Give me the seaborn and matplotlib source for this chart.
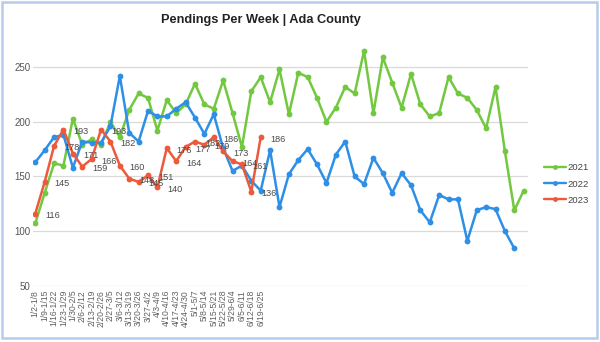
import matplotlib
matplotlib.use("Agg")
import matplotlib.pyplot as plt
import seaborn as sns
import pandas as pd
from matplotlib.patches import Rectangle
from matplotlib.lines import Line2D

# ---------------- data ----------------
weeks = ["1/2-1/8", "1/9-1/15", "1/16-1/22", "1/23-1/29", "1/30-2/5",
         "2/6-2/12", "2/13-2/19", "2/20-2/26", "2/27-3/5", "3/6-3/12",
         "3/13-3/19", "3/20-3/26", "3/27-4/2", "4/3-4/9", "4/10-4/16",
         "4/17-4/23", "4/24-4/30", "5/1-5/7", "5/8-5/14", "5/15-5/21",
         "5/22-5/28", "5/29-6/4", "6/5-6/11", "6/12-6/18", "6/19-6/25"]
n_categories = 53

values_2021 = [107, 135, 162, 160, 203, 179, 184, 179, 200, 186,
               211, 226, 222, 192, 220, 208, 216, 235, 216, 212,
               238, 208, 177, 228, 241, 218, 248, 207, 245, 241,
               222, 200, 213, 232, 226, 265, 208, 259, 236, 213,
               244, 216, 205, 208, 241, 226, 222, 211, 194, 232,
               173, 119, 137]
values_2022 = [163, 174, 186, 188, 158, 182, 181, 181, 196, 242,
               190, 182, 210, 205, 205, 212, 218, 204, 189, 207,
               176, 155, 160, 146, 137, 174, 122, 152, 165, 175,
               161, 144, 170, 182, 150, 143, 167, 153, 135, 153,
               142, 119, 108, 133, 129, 129, 91, 119, 122, 120,
               100, 84]
values_2023 = [116, 145, 178, 193, 171, 159, 166, 193, 182, 160,
               148, 145, 151, 140, 176, 164, 177, 182, 179, 186,
               173, 164, 161, 136, 186]
series_names = ["2021", "2022", "2023"]
y_ticks = [50, 100, 150, 200, 250]

tick_labels = weeks + [""] * (n_categories - len(weeks))

# ---------------- style ----------------
sns.set_theme(style="white")
plt.rcParams["font.family"] = ["Liberation Sans", "DejaVu Sans"]

rows = []
for name, vals in zip(series_names, [values_2021, values_2022, values_2023]):
    for i, v in enumerate(vals):
        rows.append({"week": i, "value": v, "year": name})
df = pd.DataFrame(rows)

palette = {"2021": "#72c83f", "2022": "#2e8fe6", "2023": "#ec5a3b"}

W, H = 600, 342
fig = plt.figure(figsize=(6, 3.42), dpi=100)
fig.patch.set_facecolor("white")
ax_left, ax_right, ax_top, ax_bottom = 33, 528.3, 40, 285.6
ax = fig.add_axes([ax_left / W, 1 - ax_bottom / H,
                   (ax_right - ax_left) / W, (ax_bottom - ax_top) / H])

sns.lineplot(data=df, x="week", y="value", hue="year", palette=palette,
             marker="o", markersize=4.2, markeredgewidth=0, linewidth=1.8,
             ax=ax, legend=False, zorder=3)

# data labels for 2023
for i, v in enumerate(values_2023):
    ax.annotate(str(v), (i, v), xytext=(7.2, -1.5), textcoords="offset points",
                ha="left", va="center", fontsize=6.6, color="#4a4a4a", zorder=5)

ax.set_xlim(-0.245, 52.49)
ax.set_ylim(50, 275)
ax.set_yticks(y_ticks)
ax.set_yticklabels([str(t) for t in y_ticks], fontsize=7, color="#555555")
ax.set_xticks(range(n_categories))
ax.set_xticklabels(tick_labels, rotation=90, fontsize=6.2, color="#606060",
                   family=["Liberation Sans Narrow", "Liberation Sans", "DejaVu Sans"],
                   va="top", ha="center")
ax.tick_params(axis="both", length=0)
ax.tick_params(axis="y", pad=2)
ax.tick_params(axis="x", pad=3)
ax.set_xlabel("")
ax.set_ylabel("")
ax.yaxis.grid(True, color="#dadada", linewidth=0.9)
ax.xaxis.grid(False)
for s in ax.spines.values():
    s.set_visible(False)

# legend
handles = [Line2D([0], [0], color=palette[n], marker="o", markersize=3.5,
                  markeredgewidth=0, linewidth=1.7) for n in series_names]
ax.legend(handles, series_names, loc="center left",
          bbox_to_anchor=(544 / W, 1 - 184 / H), bbox_transform=fig.transFigure,
          frameon=False, fontsize=6.8, handlelength=2.3, handletextpad=0.2,
          labelspacing=0.75, borderpad=0, borderaxespad=0, labelcolor="#444444")

# title
fig.text(261 / W, 1 - 20 / H, "Pendings Per Week | Ada County", ha="center",
         va="center", fontsize=9.2, fontweight="bold", color="#222222")

# outer frame
fig.patches.append(Rectangle((2 / W, 1 - 338 / H), 595 / W, 336 / H,
                             transform=fig.transFigure, fill=False,
                             edgecolor="#b7cce8", linewidth=1.8))

fig.savefig("out.png", dpi=100)
